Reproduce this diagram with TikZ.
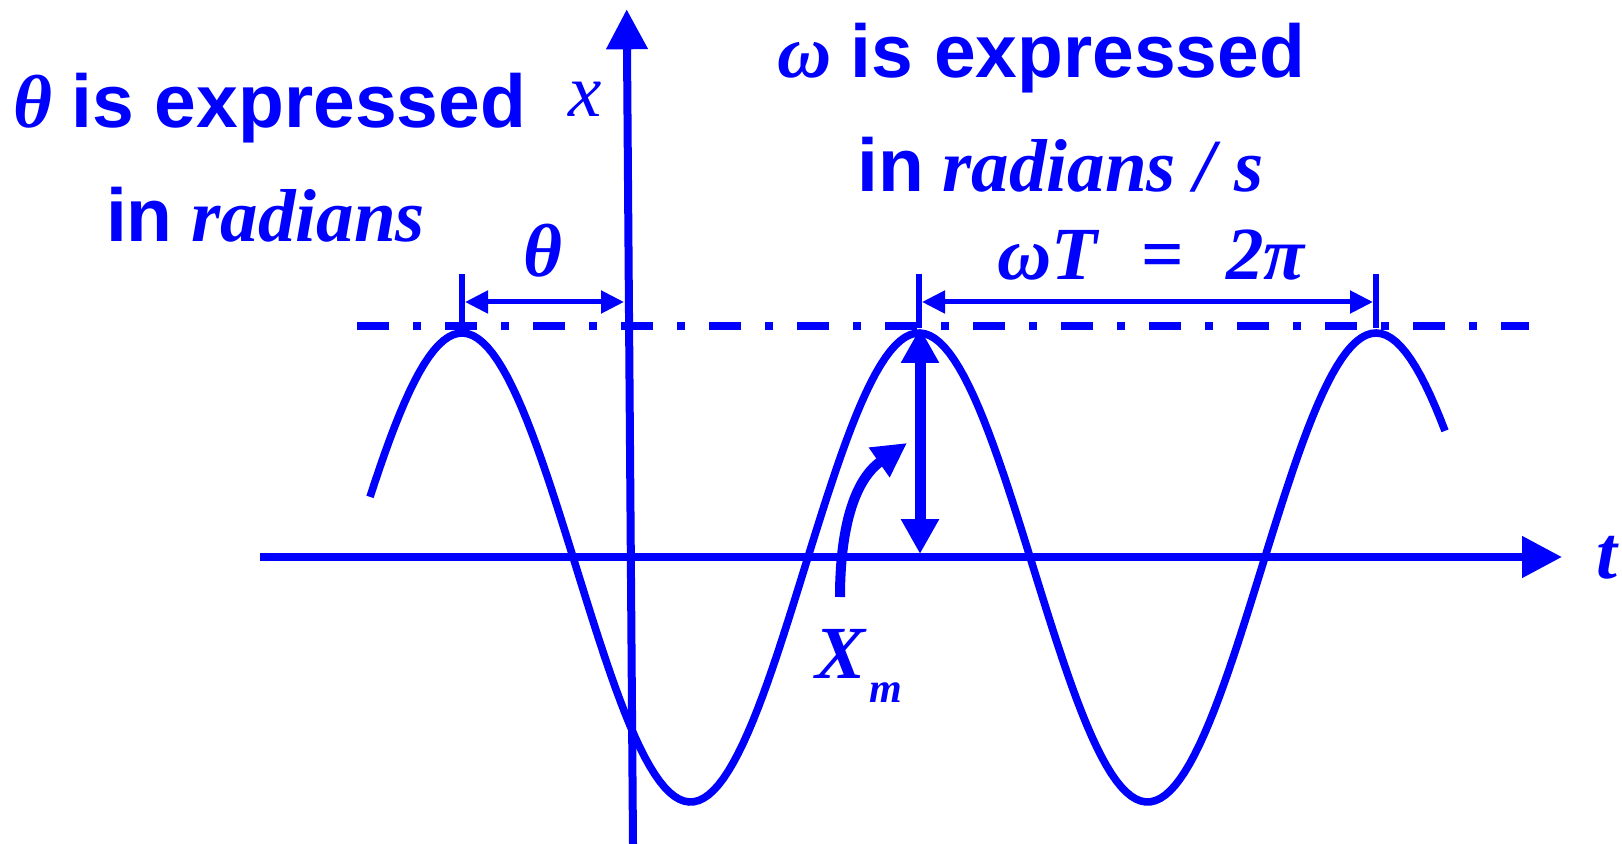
\documentclass[tikz,border=0pt]{standalone}
\usepackage{fontspec}
\setmainfont{Liberation Serif}
\newfontfamily\heavysans{Liberation Sans}
\usetikzlibrary{arrows.meta}
\newcommand{\wordsize}{\fontsize{37.5}{45}\selectfont}
\newcommand{\vari}[1]{{\bfseries\itshape #1}}
\newcommand{\plain}[1]{{\heavysans\bfseries #1}}

\begin{document}
\begin{tikzpicture}[x=0.5pt,y=-0.5pt,
  wave/.style={blue,line width=3.8pt},
  axis/.style={blue,line width=4pt,-{Triangle[length=20pt,width=20pt]}},
  peakline/.style={blue,line width=4.1pt,dash pattern=on 16pt off 12pt on 4pt off 12pt},
  tick/.style={blue,line width=3.3pt},
  dimarrow/.style={blue,line width=2.5pt,{Triangle[length=11.5pt,width=11pt]}-{Triangle[length=11.5pt,width=11pt]}},
  amparrow/.style={blue,line width=5.5pt,{Triangle[length=17.5pt,width=18pt]}-{Triangle[length=17.5pt,width=18pt]}},
  turnarrow/.style={blue,line width=5pt,-{Triangle[length=17pt,width=17pt]}},
  word/.style={blue,inner sep=0pt,anchor=base,font=\wordsize}]
  \useasboundingbox (0,0) rectangle (1622,844);

  \coordinate (tL) at (260,557);
  \coordinate (tR) at (1562,557);
  \coordinate (xB) at (633,844);
  \coordinate (xT) at (626.7,9.3);
  \coordinate (dL) at (357,326);
  \coordinate (dR) at (1529,326);
  \coordinate (P1) at (462,328);
  \coordinate (P2) at (919,328);
  \coordinate (P3) at (1376,328);
  \coordinate (A1) at (465,302);
  \coordinate (A2) at (624,302);
  \coordinate (B1) at (922,302);
  \coordinate (B2) at (1373,302);
  \coordinate (M1) at (920,328);
  \coordinate (M2) at (920,554);
  \coordinate (C1) at (840,597);
  \coordinate (C2) at (907,443);

  % wave and axes
  \draw[wave] plot[domain=370:1445,samples=220] (\x,{567.5-234.5*cos(((\x-462)/457)*360)});
  \draw[axis] (tL) -- (tR);
  \draw[axis] (xB) -- (xT);
  \draw[peakline] (dL) -- (dR);

  % period and phase marks
  \foreach \p in {P1,P2,P3} \draw[tick] (\p) -- ++(0,-54);
  \draw[dimarrow] (A1) -- (A2);
  \draw[dimarrow] (B1) -- (B2);
  \draw[amparrow] (M1) -- (M2);
  \draw[turnarrow] (C1) to[out=90,in=215] (C2);

  \node[word] (ttl1) at (270,128) {\vari{θ} \plain{is expressed}};
  \node[word] (ttl2) at (265.5,242) {\plain{in} \vari{radians}};
  \node[word] (wtl1) at (1041.5,78) {\vari{ω} \plain{is expressed}};
  \node[word] (wtl2) at (1060.5,192) {\plain{in} \vari{radians / s}};
  \node[word] (thlbl) at (543,277) {\vari{θ}};
  \node[word] (wtlbl) at (1151,280) {\vari{ωT}\hspace{22pt}{\bfseries =}\hspace{21pt}\vari{2π}};
  \node[word] (xlbl) at (585,117) {\itshape x};
  \node[word] (tlbl) at (1607,578) {\vari{t}};
  \node[word,anchor=base west] (xmlbl) at (815,678) {\vari{X\kern2pt\raisebox{-12pt}{\fontsize{21}{25}\selectfont m}}};
\end{tikzpicture}
\end{document}
